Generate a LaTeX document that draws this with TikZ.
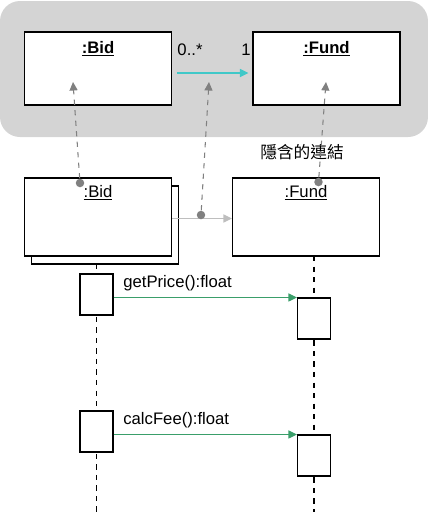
\documentclass[tikz,border=0pt]{standalone}
\usepackage{fontspec}
\setmainfont{Liberation Sans}
\newfontfamily\cjk{Noto Sans CJK TC}
\usepackage{tikz}
\usetikzlibrary{arrows.meta}
\definecolor{panelgray}{RGB}{212,212,212}
\definecolor{linkcyan}{RGB}{64,200,200}
\definecolor{msggreen}{RGB}{58,158,106}
\definecolor{dotgray}{RGB}{128,128,128}
\definecolor{linkgray}{RGB}{190,190,190}

\tikzset{
    objbox/.style={draw, fill=white, inner sep=0pt, line width=0.6pt,
        minimum width=2.94cm, minimum height=1.46cm},
    lifebox/.style={draw, fill=white, inner sep=0pt, line width=0.6pt,
        minimum width=2.94cm, minimum height=1.56cm},
    actbox/.style={draw, fill=white, inner sep=0pt, line width=0.6pt,
        minimum width=0.66cm, minimum height=0.82cm},
    linkdot/.style={circle, fill=dotgray, inner sep=0pt, minimum size=0.17cm},
    txt/.style={inner sep=0pt, font=\fontsize{9.5}{11}\selectfont},
    tip/.style={-{Triangle[length=0.17cm, width=0.16cm]}},
}

\begin{document}
\begin{tikzpicture}[x=0.02cm, y=-0.02cm]

\useasboundingbox (0,0) rectangle (430,512);

% Klassen-Ebene
\fill[
    panelgray,
    rounded corners=0.4cm
] (0,1) rectangle (428,137);

\node[objbox] (bidTop) at (98,68.5) {};
\node[txt] (bidTopName) at (98,49) {\underline{\textbf{:Bid}}};

\node[objbox] (fundTop) at (326.5,68.5) {};
\node[txt] (fundTopName) at (326.5,49) {\underline{\textbf{:Fund}}};

\node[txt] (multMany) at (190,50) {0..*};
\node[txt] (multOne) at (246,50) {1};

\draw[
    tip,
    linkcyan,
    line width=0.6pt,
    shorten <=0.1cm,
    shorten >=0.08cm
] ([yshift=-0.09cm]bidTop.east) -- ([yshift=-0.09cm]fundTop.west);

% Objekte
\node[lifebox] (bidBack) at (105,225) {};
\node[lifebox] (bidObj) at (98,217) {};
\node[txt] (bidObjName) at (98,193) {\underline{:Bid}};

\node[lifebox] (fundObj) at (306,217) {};
\node[txt] (fundObjName) at (306,193) {\underline{:Fund}};

\node[txt] (implicitLink) at (302,152) {\cjk 隱含的連結};

\draw[
    tip,
    linkgray,
    line width=0.6pt
] ([yshift=-0.03cm]bidObj.east) -- ([yshift=-0.03cm]fundObj.west);

% Verweise nach oben
\node[linkdot] (dotBid) at (80,183) {};
\node[linkdot] (dotLink) at (201,215) {};
\node[linkdot] (dotFund) at (318.5,182) {};

\coordinate (upBid) at (73,82);
\coordinate (upLink) at (209,82);
\coordinate (upFund) at (326,82);

\draw[tip, dotgray, dashed, line width=0.6pt] (dotBid) -- (upBid);
\draw[tip, dotgray, dashed, line width=0.6pt] (dotLink) -- (upLink);
\draw[tip, dotgray, dashed, line width=0.6pt] (dotFund) -- (upFund);

% Lebenslinien
\coordinate (bidEnd) at (96.5,512);
\coordinate (fundEnd) at (314,512);

\draw[line width=0.6pt, dashed] (96.5,264) -- (bidEnd);
\draw[line width=0.6pt, dashed] (314,256) -- (fundEnd);

% Aktivierungen
\node[actbox] (bidAct1) at (96.5,294.5) {};
\node[actbox] (fundAct1) at (314,318.5) {};
\node[actbox] (bidAct2) at (96.5,431.5) {};
\node[actbox] (fundAct2) at (314,455.5) {};

% Nachrichten
\draw[
    tip,
    msggreen,
    line width=0.6pt
] (bidAct1.east |- fundAct1.north) -- (fundAct1.north west);
\node[txt, anchor=base west] (msgPrice) at (123,287) {getPrice():float};

\draw[
    tip,
    msggreen,
    line width=0.6pt
] (bidAct2.east |- fundAct2.north) -- (fundAct2.north west);
\node[txt, anchor=base west] (msgFee) at (123,424) {calcFee():float};

\end{tikzpicture}
\end{document}
